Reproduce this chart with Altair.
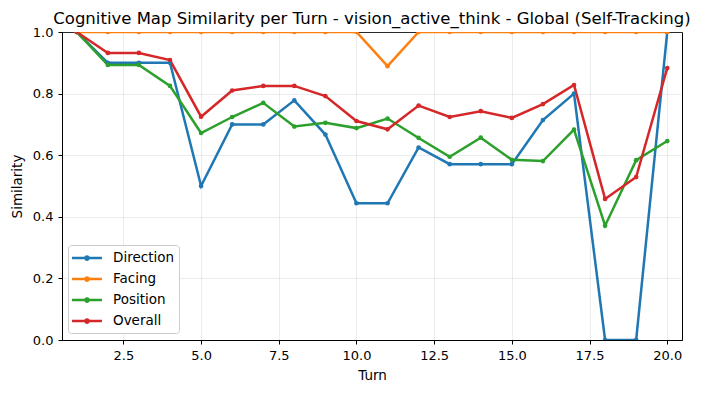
import altair as alt
import pandas as pd

turns = list(range(1, 21))
direction = [1.0, 0.9, 0.9, 0.9, 0.5, 0.7, 0.7, 0.778, 0.667, 0.444, 0.444, 0.625, 0.571, 0.571, 0.571, 0.714, 0.8, 0.0, 0.0, 1.0]
facing = [1.0, 1.0, 1.0, 1.0, 1.0, 1.0, 1.0, 1.0, 1.0, 1.0, 0.889, 1.0, 1.0, 1.0, 1.0, 1.0, 1.0, 1.0, 1.0, 1.0]
position = [1.0, 0.893, 0.893, 0.825, 0.672, 0.724, 0.77, 0.693, 0.705, 0.688, 0.719, 0.656, 0.595, 0.657, 0.585, 0.581, 0.683, 0.371, 0.584, 0.646]
overall = [1.0, 0.932, 0.932, 0.909, 0.725, 0.81, 0.825, 0.825, 0.792, 0.711, 0.684, 0.761, 0.724, 0.743, 0.721, 0.766, 0.828, 0.458, 0.529, 0.883]

series_names = ["Direction", "Facing", "Position", "Overall"]
series_values = [direction, facing, position, overall]
colors = ["#1f77b4", "#ff7f0e", "#2ca02c", "#d62728"]
x_ticks = [2.5, 5.0, 7.5, 10.0, 12.5, 15.0, 17.5, 20.0]
y_ticks = [0.0, 0.2, 0.4, 0.6, 0.8, 1.0]

rows = []
for k, (name, vals) in enumerate(zip(series_names, series_values)):
    for t, v in zip(turns, vals):
        rows.append({"Turn": t, "Metric": name, "Similarity": v, "order": k})
df = pd.DataFrame(rows)

FONT = "DejaVu Sans"

chart = alt.Chart(df).mark_line(
    strokeWidth=2.5, clip=True,
    point=alt.OverlayMarkDef(size=22, filled=True, clip=True),
).encode(
    x=alt.X("Turn:Q", scale=alt.Scale(domain=[0.525, 20.475], nice=False, zero=False),
            axis=alt.Axis(values=x_ticks, format=".1f", title="Turn")),
    y=alt.Y("Similarity:Q", scale=alt.Scale(domain=[0, 1], nice=False),
            axis=alt.Axis(values=y_ticks, format=".1f", title="Similarity")),
    color=alt.Color("Metric:N", scale=alt.Scale(domain=series_names, range=colors),
                    legend=alt.Legend(
                        title=None, orient="none", legendX=6, legendY=213,
                        symbolType="M-2.3,0H2.3M-0.25,0A0.25,0.25 0 1,0 0.25,0A0.25,0.25 0 1,0 -0.25,0",
                        symbolSize=169, symbolStrokeWidth=2.5, symbolOffset=6,
                        labelFontSize=13.5, labelFont=FONT, labelColor="black",
                        padding=5, strokeColor="#cccccc", fillColor="white",
                        cornerRadius=3, rowPadding=6, labelOffset=18,
                    )),
    detail="order:O",
).properties(
    width=620, height=308,
    title=alt.TitleParams(
        "Cognitive Map Similarity per Turn - vision_active_think - Global (Self-Tracking)",
        font=FONT, fontSize=16.5, fontWeight="normal", color="black", anchor="middle",
        offset=6, frame="group", dy=7,
    ),
    autosize=alt.AutoSizeParams(type="none"),
    padding={"left": 54, "top": 24, "right": 12, "bottom": 45},
).configure_view(
    stroke="black", strokeWidth=1
).configure_axis(
    labelFont=FONT, labelFontSize=13, labelColor="black",
    titleFont=FONT, titleFontSize=13.5, titleColor="black", titleFontWeight="normal",
    domainColor="black", tickColor="black", tickSize=4,
    gridColor="#b0b0b0", gridOpacity=0.3, gridWidth=0.8,
).configure_axisX(labelPadding=5, titlePadding=6).configure_axisY(labelPadding=5, titlePadding=8)

chart.save("out.html", embed_options={"renderer": "svg", "actions": False})
